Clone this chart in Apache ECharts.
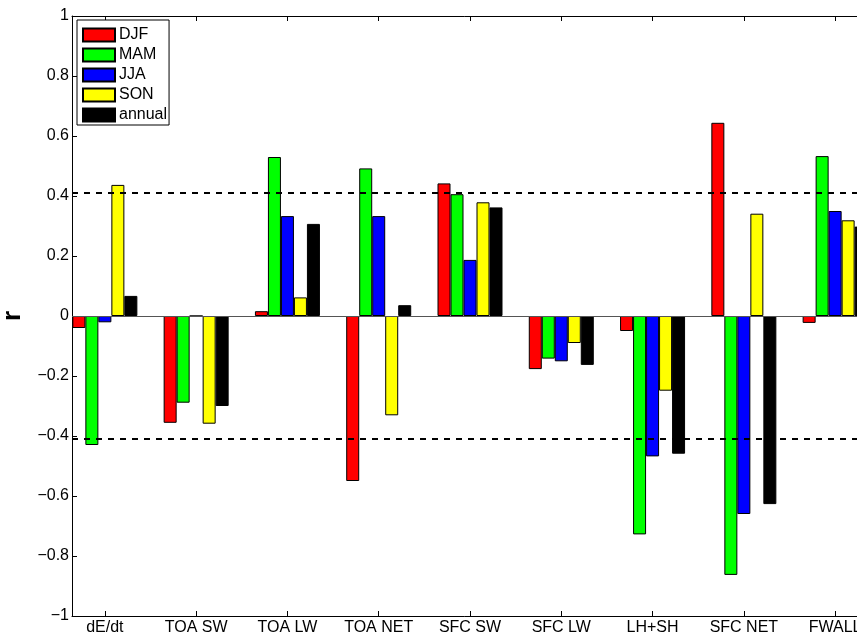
<!DOCTYPE html>
<html>
<head>
<meta charset="utf-8">
<script src="https://cdn.jsdelivr.net/npm/echarts@6/dist/echarts.min.js"></script>
<style>
  html, body { margin: 0; padding: 0; background: #fff; }
  #chart { width: 857px; height: 637px; }
</style>
</head>
<body>
<div id="chart"></div>
<script>
var categories = ['dE/dt', 'TOA SW', 'TOA LW', 'TOA NET', 'SFC SW', 'SFC LW', 'LH+SH', 'SFC NET', 'FWALL'];
var seasons = ['DJF', 'MAM', 'JJA', 'SON', 'annual'];
var djf    = [-0.04, -0.356, 0.016, -0.55, 0.442, -0.177, -0.05, 0.644, -0.023];
var mam    = [-0.43, -0.289, 0.53, 0.492, 0.406, -0.142, -0.728, -0.863, 0.533];
var jja    = [-0.021, 0, 0.333, 0.333, 0.187, -0.151, -0.468, -0.66, 0.35];
var son    = [0.437, -0.359, 0.062, -0.331, 0.379, -0.09, -0.249, 0.341, 0.319];
var annual = [0.067, -0.3, 0.307, 0.036, 0.362, -0.163, -0.459, -0.627, 0.298];
var significance = 0.414;
var yTicks = [-1, -0.8, -0.6, -0.4, -0.2, 0, 0.2, 0.4, 0.6, 0.8, 1];

var colors = ['#ff0000', '#00ff00', '#0000ff', '#ffff00', '#000000'];
var allValues = [djf, mam, jja, son, annual];
var catPos = categories.map(function (c, i) { return i + 1; });
var font = 'Liberation Sans, Arial, Helvetica, sans-serif';

var chart = echarts.init(document.getElementById('chart'));

var series = seasons.map(function (name, k) {
  var s = {
    name: name,
    type: 'bar',
    barWidth: 13,
    barGap: '0%',
    itemStyle: { color: colors[k], borderColor: '#000', borderWidth: 1 },
    data: allValues[k].map(function (v, i) { return [catPos[i], v]; })
  };
  if (k === 0) {
    // zero baseline plus the two significance lines
    s.markLine = {
      silent: true,
      symbol: 'none',
      label: { show: false },
      z: 10,
      data: [
        { yAxis: 0, lineStyle: { type: 'solid', color: '#555', width: 1 } },
        { yAxis: significance, lineStyle: { type: [6, 6], color: '#000', width: 2 } },
        { yAxis: -significance, lineStyle: { type: [6, 6], color: '#000', width: 2 } }
      ]
    };
  }
  return s;
});

var option = {
  animation: false,
  backgroundColor: '#fff',
  textStyle: { fontFamily: font },
  grid: { left: 72, right: -11, top: 16, bottom: 21, containLabel: false, outerBoundsMode: 'none' },
  legend: {
    orient: 'vertical',
    left: 77,
    top: 20,
    padding: [7, 2, 2, 5],
    itemWidth: 32,
    itemHeight: 13,
    itemGap: 4,
    backgroundColor: '#fff',
    borderColor: '#000',
    borderWidth: 1,
    borderRadius: 0,
    icon: 'rect',
    textStyle: { fontSize: 16, lineHeight: 14, color: '#000', fontFamily: font, padding: [0, 0, 0, -1] },
    data: seasons
  },
  xAxis: [
    {
      type: 'value',
      min: 0.64,
      max: 9.36,
      splitLine: { show: false },
      axisLine: { show: true, onZero: false, lineStyle: { color: '#000', width: 1 } },
      axisTick: { show: true, inside: true, length: 5, customValues: catPos, lineStyle: { color: '#000' } },
      axisLabel: {
        show: true,
        customValues: catPos,
        margin: 4,
        fontSize: 16,
        color: '#000',
        fontFamily: font,
        formatter: function (v) { return categories[Math.round(v) - 1]; }
      }
    },
    {
      type: 'value',
      position: 'top',
      min: 0.64,
      max: 9.36,
      splitLine: { show: false },
      axisLine: { show: true, onZero: false, lineStyle: { color: '#000', width: 1 } },
      axisTick: { show: true, inside: true, length: 5, customValues: catPos, lineStyle: { color: '#000' } },
      axisLabel: { show: false }
    }
  ],
  yAxis: {
    type: 'value',
    min: -1,
    max: 1,
    interval: 0.2,
    name: 'r',
    nameLocation: 'middle',
    nameGap: 46,
    nameRotate: 90,
    nameTextStyle: { fontSize: 26, fontWeight: 'bold', color: '#000', fontFamily: font },
    splitLine: { show: false },
    axisLine: { show: true, onZero: false, lineStyle: { color: '#000', width: 1 } },
    axisTick: { show: true, inside: true, length: 5, lineStyle: { color: '#000' } },
    axisLabel: {
      margin: 3,
      fontSize: 16,
      color: '#000',
      fontFamily: font,
      customValues: yTicks,
      formatter: function (v) {
        var r = Math.round(v * 10) / 10;
        return String(r).replace('-', '\u2212');
      }
    }
  },
  series: series
};

chart.setOption(option);
</script>
</body>
</html>
